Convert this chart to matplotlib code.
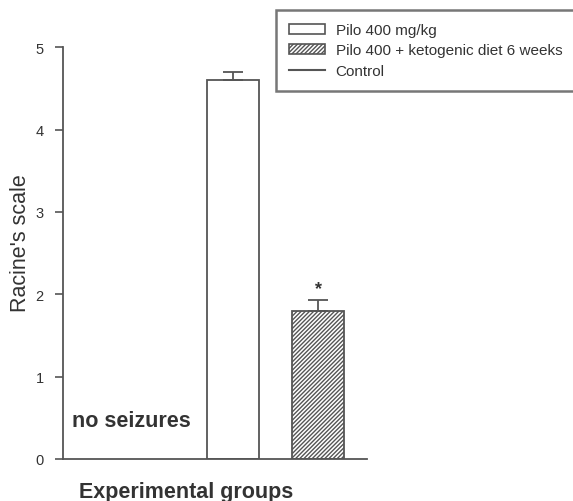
import matplotlib
matplotlib.use("Agg")
import matplotlib.pyplot as plt
from matplotlib.lines import Line2D
from matplotlib.patches import Patch

plt.rcParams['font.family'] = ['Liberation Sans', 'DejaVu Sans']
plt.rcParams['hatch.color'] = '#333333'
plt.rcParams['hatch.linewidth'] = 1.0

groups = ['Control', 'Pilo 400 mg/kg', 'Pilo 400 + ketogenic diet 6 weeks']
means = [0.0, 4.6, 1.8]
errs = [0.0, 0.1, 0.13]
hatches = ['', '', '////////']

edge = '#555555'
txt = '#333333'

fig = plt.figure(figsize=(5.73, 5.02), dpi=100)
ax = fig.add_axes([0.110, 0.0837, 0.530, 0.8203])

x = list(range(len(groups)))
for i in x:
    if means[i] > 0:
        ax.bar(i, means[i], width=0.61, color='white', edgecolor=edge,
               linewidth=1.3, hatch=hatches[i], zorder=2)
        ax.errorbar(i, means[i], yerr=[[0], [errs[i]]], color=edge,
                    capsize=7, elinewidth=1.3, capthick=1.3, zorder=3)

ax.text(2, means[2] + errs[2] + 0.04, '*', ha='center', va='bottom',
        fontsize=13, fontweight='bold', color=txt)
ax.text(-0.89, 0.47, 'no seizures', ha='left', va='center',
        fontsize=15.5, fontweight='bold', color=txt)

ax.set_xlim(-0.99, 2.57)
ax.set_ylim(0, 5)
ax.set_yticks([0, 1, 2, 3, 4, 5])
ax.set_xticks([])
for s in ['top', 'right']:
    ax.spines[s].set_visible(False)
for s in ['left', 'bottom']:
    ax.spines[s].set_color(edge)
    ax.spines[s].set_linewidth(1.3)
ax.tick_params(axis='y', direction='out', length=6, width=1.2, color=edge,
               labelsize=10.5, labelcolor=txt, pad=8)

ax.set_ylabel("Racine's scale", fontsize=15.5, color=txt)
ax.yaxis.set_label_coords(-0.105, 0.527)
ax.set_xlabel('Experimental groups', fontsize=15.5, fontweight='bold', color=txt)
ax.xaxis.set_label_coords(0.405, -0.053)

handles = [
    Patch(facecolor='white', edgecolor=edge, linewidth=1.2, label=groups[1]),
    Patch(facecolor='white', edgecolor=edge, linewidth=1.2, hatch='////////', label=groups[2]),
    Line2D([0], [0], color=edge, linewidth=1.5, label=groups[0]),
]
leg = fig.legend(handles=handles, loc='upper left', bbox_to_anchor=(276 / 573, 1 - 11 / 502),
                 fontsize=11, frameon=True, fancybox=False, edgecolor=edge,
                 handlelength=2.35, handleheight=0.65, labelspacing=0.42,
                 borderpad=0.85, handletextpad=0.7, borderaxespad=0)
leg.get_frame().set_linewidth(1.8)
for t in leg.get_texts():
    t.set_color(txt)

fig.savefig('out.png', dpi=100)
